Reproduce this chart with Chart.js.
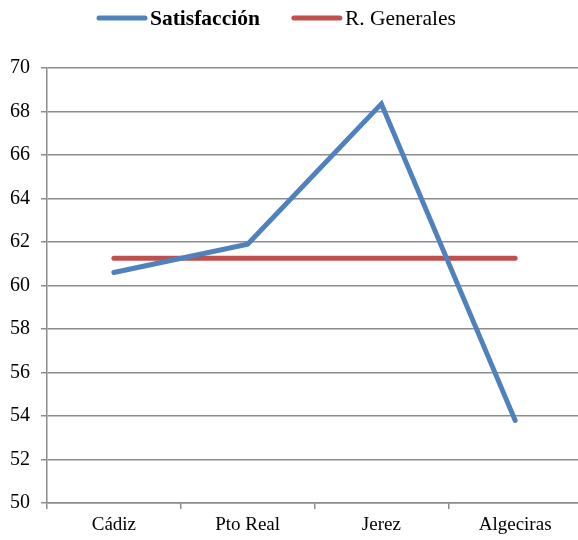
<!DOCTYPE html>
<html>
<head>
<meta charset="utf-8">
<script src="https://cdn.jsdelivr.net/npm/chart.js@4"></script>
<style>
  html, body { margin: 0; padding: 0; background: #fff; overflow: hidden; }
  #wrap { width: 584px; height: 540px; }
</style>
</head>
<body>
<div id="wrap"><canvas id="chart"></canvas></div>
<script>
const categories = ["Cádiz", "Pto Real", "Jerez", "Algeciras"];
const satisfaccion = [60.6, 61.9, 68.35, 53.8];
const generales = [61.25, 61.25, 61.25, 61.25];

const gridColor = "#8c8c8c";
const serif = "'Liberation Serif', 'DejaVu Serif', serif";

// legend drawn by hand so the first entry can be bold
const serifLegend = {
    id: "serifLegend",
    afterDraw(chart) {
        const ctx = chart.ctx;
        const y = 18;
        let x = 97;
        ctx.save();
        chart.data.datasets.forEach((ds, i) => {
            ctx.strokeStyle = ds.borderColor;
            ctx.lineWidth = 5;
            ctx.lineCap = "round";
            ctx.beginPath();
            ctx.moveTo(x + 2, y);
            ctx.lineTo(x + 48, y);
            ctx.stroke();
            ctx.font = (i === 0 ? "bold " : "") + "21.5px " + serif;
            ctx.fillStyle = "#000";
            ctx.textBaseline = "middle";
            ctx.fillText(ds.label, x + 53, y + 1);
            x += 53 + ctx.measureText(ds.label).width + 32;
        });
        ctx.restore();
    }
};

new Chart(document.getElementById("chart").getContext("2d"), {
    type: "line",
    data: {
        labels: categories,
        datasets: [
            {
                label: "Satisfacción",
                data: satisfaccion,
                borderColor: "#4f81bd",
                backgroundColor: "#4f81bd",
                borderWidth: 5,
                borderCapStyle: "round",
                pointRadius: 0,
                tension: 0,
            },
            {
                label: "R. Generales",
                data: generales,
                borderColor: "#c0504d",
                backgroundColor: "#c0504d",
                borderWidth: 5,
                borderCapStyle: "round",
                pointRadius: 0,
                tension: 0,
            }
        ]
    },
    options: {
        responsive: true,
        maintainAspectRatio: false,
        animation: false,
        layout: {padding: {left: 0, right: 2, top: 68, bottom: 0}},
        plugins: {
            legend: {display: false},
            tooltip: {enabled: false}
        },
        scales: {
            x: {
                offset: true,
                grid: {
                    offset: true,
                    drawOnChartArea: false,
                    color: gridColor,
                    lineWidth: 1.5,
                    tickLength: 6,
                },
                border: {color: gridColor, width: 1.5},
                ticks: {color: "#000", font: {family: serif, size: 19}, padding: 5},
                afterFit: axis => { axis.height = 37; }
            },
            y: {
                min: 50,
                max: 70,
                grid: {color: gridColor, lineWidth: 1.5, tickLength: 6},
                border: {color: gridColor, width: 1.5},
                ticks: {stepSize: 2, color: "#000", font: {family: serif, size: 20}, padding: 11},
                afterFit: axis => { axis.width = 47; }
            }
        }
    },
    plugins: [serifLegend]
});
</script>
</body>
</html>
